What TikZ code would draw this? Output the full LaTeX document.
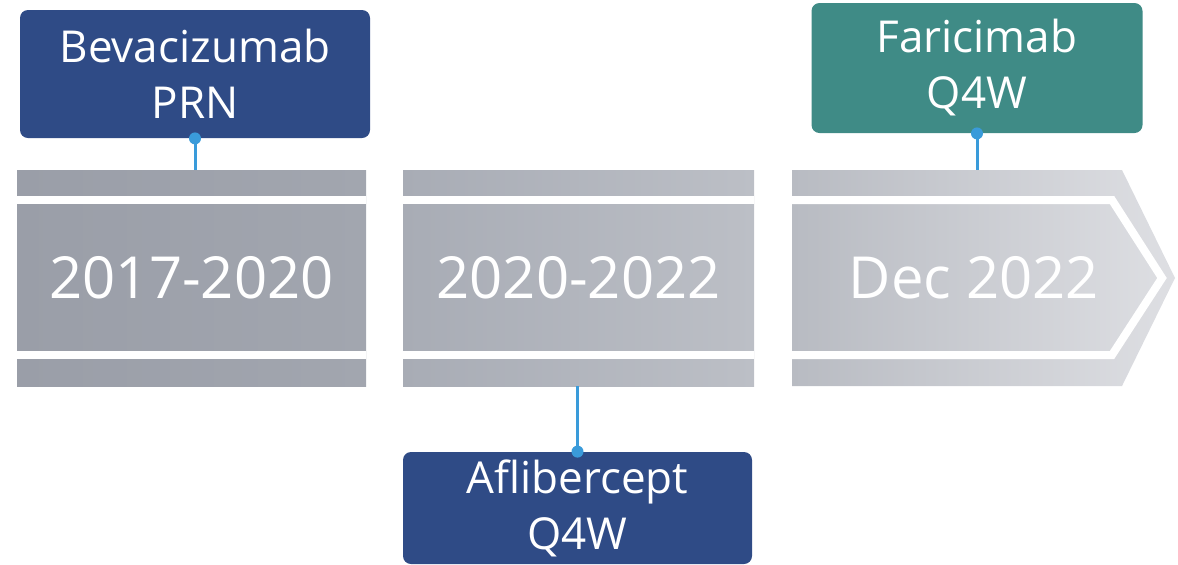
\documentclass[tikz,border=0pt]{standalone}
\usepackage{fontspec}
\setmainfont{Open Sans}
\usetikzlibrary{positioning}
\definecolor{drugNavy}{HTML}{2F4B86}
\definecolor{drugTeal}{HTML}{3F8B86}
\definecolor{pinBlue}{HTML}{3A9BDA}
\definecolor{grayA}{HTML}{9A9EA8}
\definecolor{grayB}{HTML}{A2A6AF}
\definecolor{grayC}{HTML}{A8ACB5}
\definecolor{grayD}{HTML}{BCBFC6}
\definecolor{grayE}{HTML}{B8BBC2}
\definecolor{grayF}{HTML}{DEDFE3}

\begin{document}
\begin{tikzpicture}[x=0.5pt, y=-0.5pt,
  drug/.style={rounded corners=4pt, text=white, align=center,
               font=\fontsize{22}{28}\selectfont, inner sep=0pt},
  band/.style={text=white, font=\fontsize{29}{36}\selectfont,
               minimum height=108pt, inner sep=0pt},
  gap/.style={white, line width=4pt, line join=miter},
  pin/.style={pinBlue, line width=1.5pt}
]
\useasboundingbox (0,0) rectangle (1178,564);

% timeline bands
\node[band, left color=grayA, right color=grayB, minimum width=174.5pt]
  (seg1) at (191.5,278) {2017-2020};
\node[band, left color=grayC, right color=grayD, minimum width=175.5pt]
  (seg2) at (578.5,278) {2020-2022};
\shade[left color=grayE, right color=grayF]
  (792,170) -- (1122,170) -- (1175,278) -- (1122,386) -- (792,386) -- cycle;
\node[band] (seg3) at (974,278) {Dec 2022};

% white stripes
\foreach \s in {seg1,seg2} {
  \draw[gap] ([yshift=-15pt]\s.north west) -- ([yshift=-15pt]\s.north east);
  \draw[gap] ([yshift=15.5pt]\s.south west) -- ([yshift=15.5pt]\s.south east);
}
\draw[gap] (792,200) -- (1112,200) -- (1162,278) -- (1112,355) -- (792,355);

% drug boxes
\node[drug, fill=drugNavy, minimum width=175pt, minimum height=64pt]
  (bev) at (195,74) {Bevacizumab\\PRN};
\node[drug, fill=drugNavy, minimum width=174.5pt, minimum height=56pt]
  (afl) at (577.5,508) {Aflibercept\\Q4W};
\node[drug, fill=drugTeal, minimum width=165.5pt, minimum height=65pt]
  (far) at (977,68) {Faricimab\\Q4W};

% pins
\draw[pin] (bev.south) -- (bev.south |- seg1.north);
\draw[pin] (afl.north) -- (afl.north |- seg2.south);
\draw[pin] (far.south) -- (far.south |- seg3.north);
\foreach \b/\a in {bev/south, afl/north, far/south}
  \fill[pinBlue] (\b.\a) circle (3pt);
\end{tikzpicture}
\end{document}
